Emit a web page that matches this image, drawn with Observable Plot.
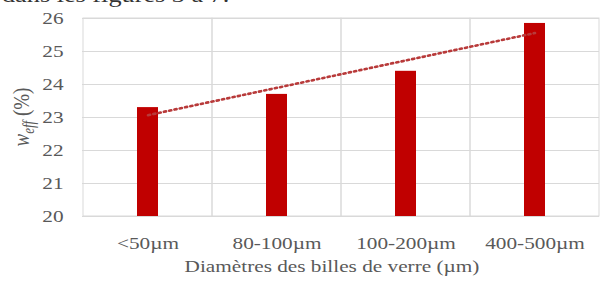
<!DOCTYPE html>
<html>
<head>
<meta charset="utf-8">
<script src="https://cdn.jsdelivr.net/npm/d3@7"></script>
<script src="https://cdn.jsdelivr.net/npm/@observablehq/plot@0.6"></script>
<style>
  html, body { margin: 0; padding: 0; background: white; }
  #chart { width: 603px; height: 282px; overflow: hidden; }
</style>
</head>
<body>
<div id="chart"></div>
<script>
// ---- data ----
const categories = ["<50µm", "80-100µm", "100-200µm", "400-500µm"];
const values = [23.3, 23.7, 24.4, 25.85];
const trendCategories = ["<50µm", "400-500µm"];
const trendValues = [23.07, 25.56];
const yTicks = [20, 21, 22, 23, 24, 25, 26];
const yDomain = [20, 26];
const xTitle = "Diamètres des billes de verre (µm)";
const topText = "dans les figures 3 à 7.";

const bars = categories.map((c, i) => ({c, v: values[i]}));
const trend = trendCategories.map((c, i) => ({c, v: trendValues[i]}));

const plot = Plot.plot({
  width: 603,
  height: 282,
  marginLeft: 82,
  marginRight: 4,
  marginTop: 18,
  marginBottom: 66,
  style: {fontFamily: "'Liberation Serif', 'Times New Roman', serif", fontSize: "17px", color: "#595959", background: "white"},
  x: {domain: categories, padding: 0, label: null, tickSize: 0, tickPadding: 20},
  y: {domain: yDomain, ticks: yTicks, label: null, tickSize: 0, tickPadding: 19, tickFormat: d => String(d)},
  marks: [
    Plot.ruleY(yTicks, {stroke: "#d9d9d9", strokeWidth: 1}),
    Plot.barY(categories, {x: d => d, y1: yDomain[0], y2: yDomain[1], fill: "none", stroke: "#d9d9d9", strokeWidth: 1}),
    Plot.barY(bars, {x: "c", y1: yDomain[0], y2: "v", fill: "#c00000", insetLeft: 54, insetRight: 54}),
    Plot.lineY(trend, {x: "c", y: "v", stroke: "#b83a3a", strokeWidth: 2.6, strokeDasharray: "2.2 3.2"})
  ]
});

document.getElementById("chart").appendChild(plot);

const svg = d3.select(plot);
const SX = 1.25; // horizontal stretch of the reference's text

function stretch(el) {
  const x = parseFloat(el.getAttribute("x")) || 0;
  const y = parseFloat(el.getAttribute("y")) || 0;
  const t = el.getAttribute("transform") || "";
  el.setAttribute("transform", `${t} translate(${x},${y}) scale(${SX},1) translate(${-x},${-y})`);
}
svg.selectAll('g[aria-label="x-axis tick label"] text, g[aria-label="y-axis tick label"] text').each(function() { stretch(this); });

// x-axis title
const xt = svg.append("text")
  .attr("x", 332).attr("y", 272)
  .attr("text-anchor", "middle")
  .attr("fill", "#595959")
  .attr("font-size", 17)
  .text(xTitle);
stretch(xt.node());

// y-axis title: w_eff (%)
const yl = svg.append("text")
  .attr("transform", `translate(29,117) scale(${SX},1) rotate(-90)`)
  .attr("text-anchor", "middle")
  .attr("fill", "#595959")
  .attr("font-size", 19);
yl.append("tspan").attr("font-style", "italic").text("w");
yl.append("tspan").attr("font-style", "italic").attr("font-size", 13).attr("dy", 4).text("eff");
yl.append("tspan").attr("dy", -4).text(" (%)");

// cut-off text above the chart
const tt = svg.append("text")
  .attr("x", 2).attr("y", 2)
  .attr("text-anchor", "start")
  .attr("fill", "#333")
  .attr("font-size", 21)
  .text(topText);
stretch(tt.node());
</script>
</body>
</html>
